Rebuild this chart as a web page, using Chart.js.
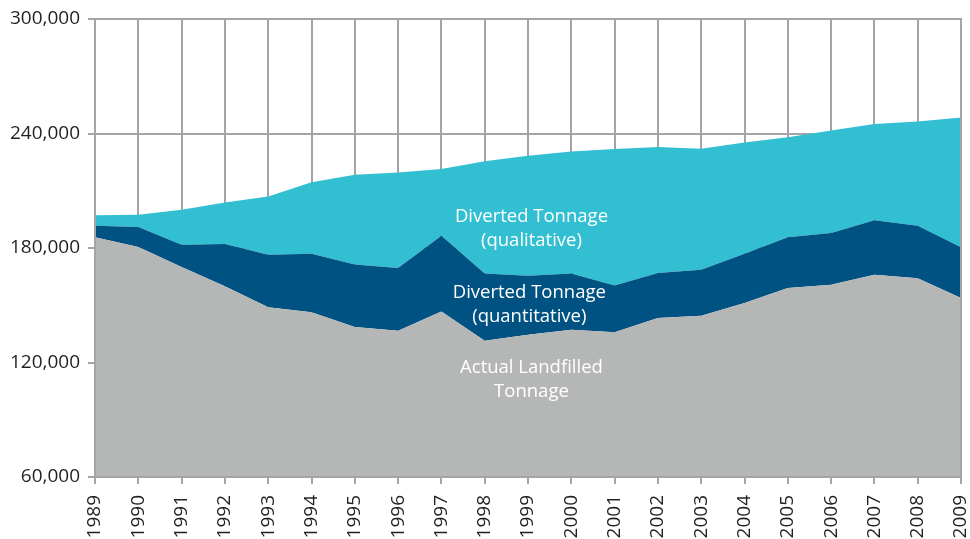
<!DOCTYPE html>
<html>
<head>
<meta charset="utf-8">
<script src="https://cdn.jsdelivr.net/npm/chart.js@4/dist/chart.umd.min.js"></script>
<style>
  html, body { margin: 0; padding: 0; background: #ffffff; }
  #wrap { width: 970px; height: 539px; position: relative; }
</style>
</head>
<body>
<div id="wrap"><canvas id="tonnage"></canvas></div>
<script>
const years = ["1989","1990","1991","1992","1993","1994","1995","1996","1997","1998","1999",
               "2000","2001","2002","2003","2004","2005","2006","2007","2008","2009"];

// tonnes (stacked bottom -> top)
const landfilled   = [185600,180500,170000,160000,148900,146300,138600,136700,146700,131400,134500,
                      137200,135900,143300,144500,151200,159000,160800,166000,164200,153800];
const quantitative = [6100,10500,11700,22100,27600,30700,32700,32800,39700,35200,31000,
                      29400,24400,23600,24100,25800,26600,27100,28500,27500,26600];
const qualitative  = [5400,6400,18400,21800,30500,37400,47100,50100,35000,58800,62900,
                      64000,71600,66000,63400,58300,52500,53700,50500,54600,68000];

const yTicks = [60000, 120000, 180000, 240000, 300000];

// in-chart labels: [x index, y value, lines]
const areaLabels = [
  [10.08, 196400, ["Diverted Tonnage", "(qualitative)"]],
  [10.03, 156800, ["Diverted Tonnage", "(quantitative)"]],
  [10.08, 117300, ["Actual Landfilled", "Tonnage"]]
];

const gridGrey = "#a4a4a8";
const textCol = "#231f20";
const fontFam = "'Open Sans', 'Noto Sans', sans-serif";

const frameAndLabels = {
  id: "frameAndLabels",
  afterDatasetsDraw(chart) {
    const ctx = chart.ctx;
    const a = chart.chartArea;
    const xs = chart.scales.x, ys = chart.scales.y;
    ctx.save();
    ctx.strokeStyle = gridGrey;
    ctx.lineWidth = 2;
    ctx.strokeRect(a.left, a.top, a.right - a.left, a.bottom - a.top);
    ctx.fillStyle = "#ffffff";
    ctx.font = "18.5px " + fontFam;
    ctx.textAlign = "center";
    ctx.textBaseline = "middle";
    areaLabels.forEach(l => {
      const px = xs.getPixelForValue(l[0]);
      const py = ys.getPixelForValue(l[1]);
      l[2].forEach((t, i) => ctx.fillText(t, px, py + i * 24.5));
    });
    ctx.restore();
  }
};

new Chart(document.getElementById("tonnage"), {
  type: "line",
  data: {
    labels: years,
    datasets: [
      { label: "Actual Landfilled Tonnage", data: landfilled, backgroundColor: "#b5b6b6", fill: "start" },
      { label: "Diverted Tonnage (quantitative)", data: quantitative, backgroundColor: "#005283", fill: "-1" },
      { label: "Diverted Tonnage (qualitative)", data: qualitative, backgroundColor: "#33bfd2", fill: "-1" }
    ]
  },
  options: {
    responsive: true,
    maintainAspectRatio: false,
    animation: false,
    layout: { padding: { top: 19, right: 9, left: 0, bottom: 0 } },
    elements: {
      line: { borderWidth: 0, tension: 0 },
      point: { radius: 0, hoverRadius: 0 }
    },
    plugins: {
      legend: { display: false },
      tooltip: { enabled: false }
    },
    scales: {
      x: {
        offset: false,
        grid: { color: gridGrey, lineWidth: 2, tickLength: 7 },
        border: { display: false },
        afterFit(s) { s.height = 62; s.paddingLeft = 0; s.paddingRight = 0; },
        ticks: {
          color: textCol,
          font: { family: fontFam, size: 19 },
          minRotation: 90,
          maxRotation: 90,
          autoSkip: false,
          padding: 11
        }
      },
      y: {
        stacked: true,
        min: 60000,
        max: 300000,
        afterBuildTicks(scale) { scale.ticks = yTicks.map(v => ({ value: v })); },
        afterFit(s) { s.width = 95; s.paddingTop = 0; s.paddingBottom = 0; },
        grid: { color: gridGrey, lineWidth: 2, tickLength: 7 },
        border: { display: false },
        ticks: {
          color: textCol,
          font: { family: fontFam, size: 19 },
          padding: 8,
          callback: v => v.toLocaleString("en-US")
        }
      }
    }
  },
  plugins: [frameAndLabels]
});
</script>
</body>
</html>
